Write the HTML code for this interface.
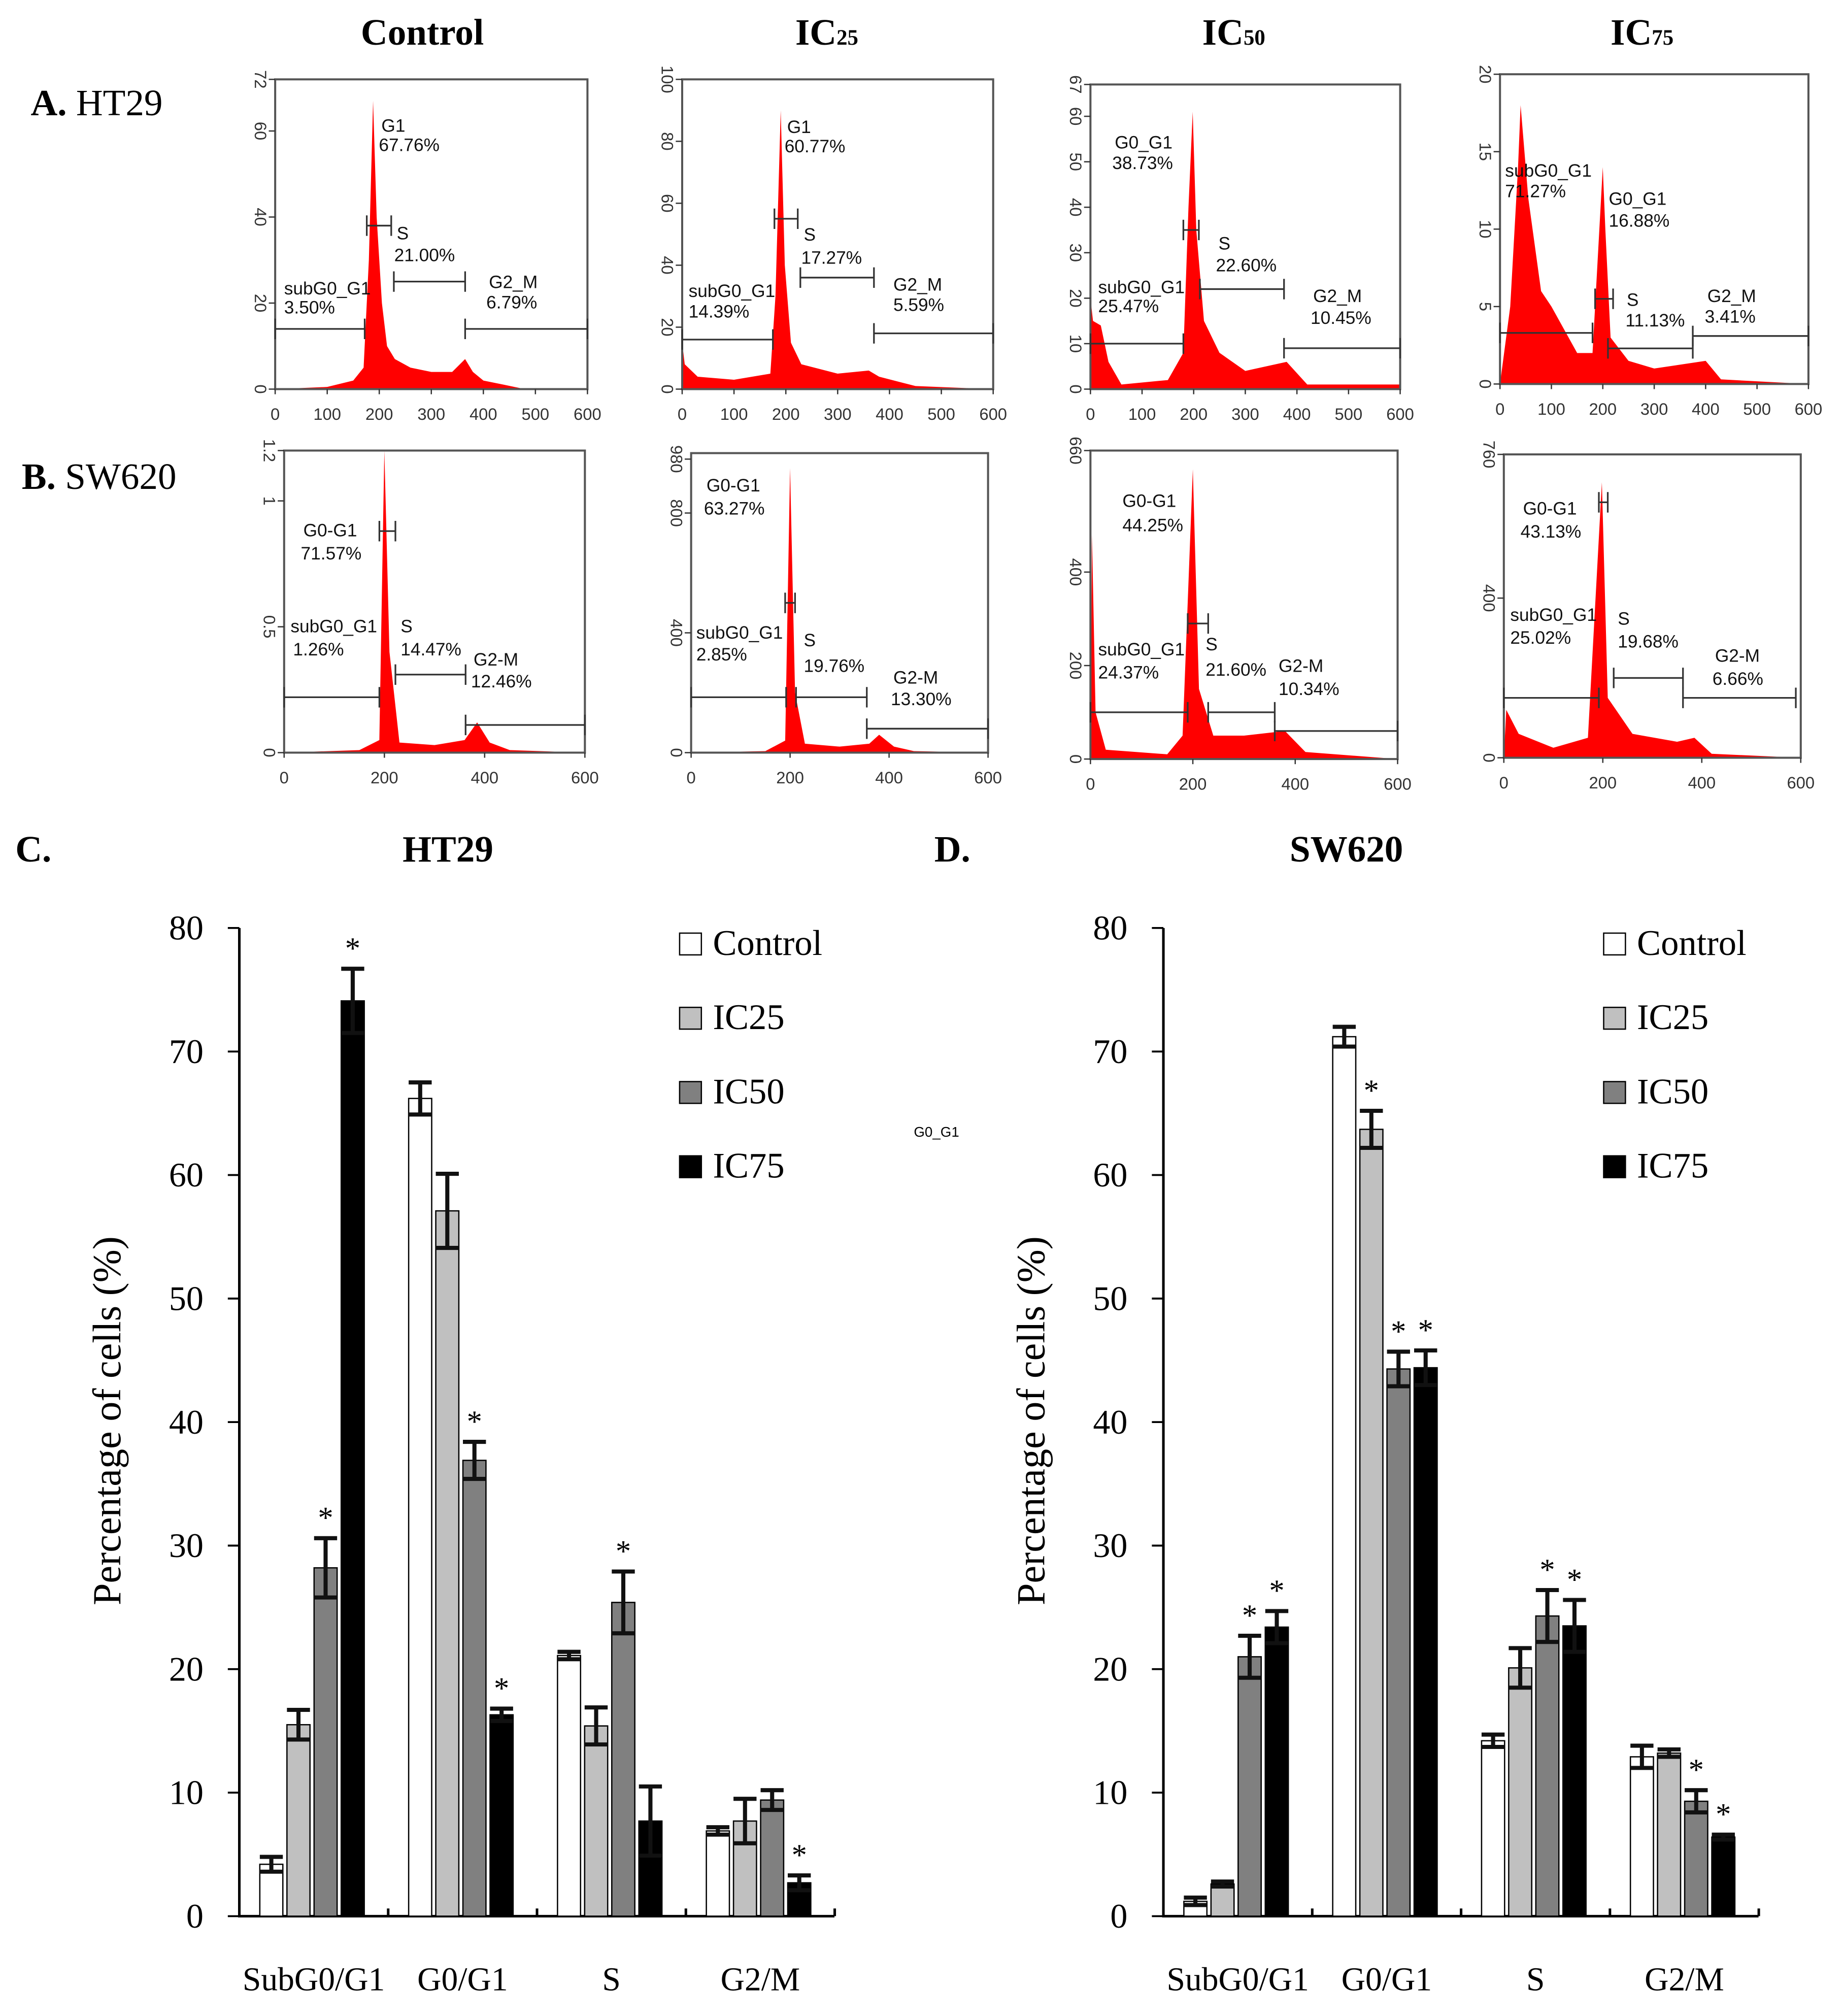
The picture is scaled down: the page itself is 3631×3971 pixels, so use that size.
<!DOCTYPE html>
<html><head><meta charset="utf-8">
<style>
html,body{margin:0;padding:0;background:#fff;}
svg{display:block;}
</style></head>
<body>
<svg id="fig" width="3631" height="3971" viewBox="0 0 1440 1575" preserveAspectRatio="none" xmlns="http://www.w3.org/2000/svg">
<g font-family="Liberation Serif, serif" fill="#000">
<text x="330" y="35" font-size="29" font-weight="bold" text-anchor="middle">Control</text>
<text x="646" y="35" font-size="29" font-weight="bold" text-anchor="middle">IC<tspan font-size="17">25</tspan></text>
<text x="964" y="35" font-size="29" font-weight="bold" text-anchor="middle">IC<tspan font-size="17">50</tspan></text>
<text x="1283" y="35" font-size="29" font-weight="bold" text-anchor="middle">IC<tspan font-size="17">75</tspan></text>
<text x="24" y="90" font-size="29"><tspan font-weight="bold">A.</tspan> HT29</text>
<text x="17" y="382" font-size="29"><tspan font-weight="bold">B.</tspan> SW620</text>
<text x="12" y="673" font-size="29" font-weight="bold">C.</text>
<text x="350" y="673" font-size="29" font-weight="bold" text-anchor="middle">HT29</text>
<text x="730" y="673" font-size="29" font-weight="bold">D.</text>
<text x="1052" y="673" font-size="29" font-weight="bold" text-anchor="middle">SW620</text>
<text x="714" y="888" font-size="11" font-family="Liberation Sans, sans-serif">G0_G1</text>
</g>
<g id="hists"></g>
<g id="bars"></g>
</svg>
<script>
const NS='http://www.w3.org/2000/svg';
function mk(tag,attrs,parent){const e=document.createElementNS(NS,tag);for(const k in attrs)e.setAttribute(k,attrs[k]);parent.appendChild(e);return e;}

/* ---------- Histogram data (x = DNA content, y = counts) ---------- */
const histA0=[[0,0],[100,0.5],[150,2],[170,5],[180,30],[188,67],[195,40],[205,20],[215,10],[230,7],[260,5],[300,4],[340,4],[365,7],[380,4],[400,2],[440,1],[480,0],[600,0]];
const histA1=[[0,15],[5,8],[30,4],[100,3],[170,5],[180,30],[190,90],[198,40],[210,15],[230,8],[300,5],[360,6],[380,4],[450,1],[600,0]];
const histA2=[[0,20],[5,15],[20,14],[35,6],[60,1],[150,2],[180,8],[190,40],[198,61],[205,35],[220,15],[250,8],[300,4],[380,6],[420,1],[600,1]];
const histA3=[[0,0],[20,5],[35,14],[40,18],[55,12],[80,6],[100,5],[150,2],[180,2],[200,14],[205,10],[215,3],[250,1.5],[300,1],[400,1.5],[430,0.3],[600,0]];
const histB0=[[0,0],[150,0.01],[190,0.05],[200,1.3],[210,0.4],[230,0.04],[300,0.03],[360,0.05],[385,0.12],[410,0.04],[450,0.01],[600,0]];
const histB1=[[0,0],[150,5],[190,40],[200,950],[210,200],[230,30],[300,20],[360,30],[380,60],[410,20],[450,5],[600,0]];
const histB2=[[0,0],[3,480],[10,100],[30,20],[150,10],[180,50],[200,620],[212,150],[240,50],[300,50],[380,60],[420,15],[600,0]];
const histB3=[[0,0],[5,120],[30,60],[100,25],[170,50],[198,690],[210,150],[260,60],[350,40],[385,50],[420,10],[600,0]];

const panels=[
 {id:'a-control',box:[215,62,459,304],ymax:72,yt:[0,20,40,60,72],xt:[0,100,200,300,400,500,600],h:histA0,
  gates:[[0,172,14],[176,223,38],[228,365,25],[365,600,14]],
  labels:[['G1',298,103],['67.76%',296,118],['S',310,187],['21.00%',308,204],['subG0_G1',222,230],['3.50%',222,245],['G2_M',382,225],['6.79%',380,241]]},
 {id:'a-ic25',box:[533,62,776,304],ymax:100,yt:[0,20,40,60,80,100],xt:[0,100,200,300,400,500,600],h:histA1,
  gates:[[0,175,16],[178,223,55],[228,370,36],[370,600,18]],
  labels:[['G1',615,104],['60.77%',613,119],['S',628,188],['17.27%',626,206],['subG0_G1',538,232],['14.39%',538,248],['G2_M',698,227],['5.59%',698,243]]},
 {id:'a-ic50',box:[852,66,1094,304],ymax:67,yt:[0,10,20,30,40,50,60,67],xt:[0,100,200,300,400,500,600],h:histA2,
  gates:[[0,180,10],[180,210,35],[212,375,22],[375,600,9]],
  labels:[['G0_G1',871,116],['38.73%',869,132],['S',952,195],['22.60%',950,212],['subG0_G1',858,229],['25.47%',858,244],['G2_M',1026,236],['10.45%',1024,253]]},
 {id:'a-ic75',box:[1172,58,1413,300],ymax:20,yt:[0,5,10,15,20],xt:[0,100,200,300,400,500,600],h:histA3,
  gates:[[0,180,3.3],[185,220,5.5],[210,375,2.3],[375,600,3.1]],
  labels:[['subG0_G1',1176,138],['71.27%',1176,154],['G0_G1',1257,160],['16.88%',1257,177],['S',1271,239],['11.13%',1270,255],['G2_M',1334,236],['3.41%',1332,252]]},
 {id:'b-control',box:[222,352,457,588],ymax:1.2,yt:[0,0.5,1,1.2],xt:[0,200,400,600],h:histB0,
  gates:[[0,190,0.22],[190,222,0.88],[222,362,0.31],[362,600,0.11]],
  labels:[['G0-G1',237,419],['71.57%',235,437],['subG0_G1',227,494],['1.26%',229,512],['S',313,494],['14.47%',313,512],['G2-M',370,520],['12.46%',368,537]]},
 {id:'b-ic25',box:[540,354,772,588],ymax:1000,yt:[0,400,800,980],xt:[0,200,400,600],h:histB1,
  gates:[[0,192,185],[190,210,500],[212,355,185],[355,600,80]],
  labels:[['G0-G1',552,384],['63.27%',550,402],['subG0_G1',544,499],['2.85%',544,516],['S',628,505],['19.76%',628,525],['G2-M',698,534],['13.30%',696,551]]},
 {id:'b-ic50',box:[852,352,1092,593],ymax:660,yt:[0,200,400,660],xt:[0,200,400,600],h:histB2,
  gates:[[0,190,100],[190,230,290],[230,360,100],[360,600,60]],
  labels:[['G0-G1',877,396],['44.25%',877,415],['subG0_G1',858,512],['24.37%',858,530],['S',942,508],['21.60%',942,528],['G2-M',999,525],['10.34%',999,543]]},
 {id:'b-ic75',box:[1175,355,1407,592],ymax:760,yt:[0,400,760],xt:[0,200,400,600],h:histB3,
  gates:[[0,192,150],[192,210,640],[222,362,200],[362,590,150]],
  labels:[['G0-G1',1190,402],['43.13%',1188,420],['subG0_G1',1180,485],['25.02%',1180,503],['S',1264,488],['19.68%',1264,506],['G2-M',1340,517],['6.66%',1338,535]]}
];

const hg=document.getElementById('hists');
panels.forEach(p=>{
  const [x0,y0,x1,y1]=p.box;
  const sx=v=>x0+(x1-x0)*v/600;
  const sy=v=>y1-(y1-y0)*v/p.ymax;
  const g=mk('g',{},hg);
  
  
  let d='M'+sx(0)+','+sy(0);
  p.h.forEach(pt=>{d+=' L'+sx(pt[0]).toFixed(1)+','+sy(Math.min(pt[1],p.ymax)).toFixed(1);});
  d+=' L'+sx(600)+','+sy(0)+' Z';
  const area=mk('path',{d:d,fill:'#ff0000',stroke:'none'},g);
  
  
  const fr=mk('rect',{x:x0,y:y0,width:x1-x0,height:y1-y0,fill:'none',stroke:'#555','stroke-width':1.6},g);
  
  
  p.xt.forEach(v=>{
    mk('line',{x1:sx(v),x2:sx(v),y1:y1,y2:y1+4,stroke:'#333','stroke-width':1},g);
    const t=mk('text',{x:sx(v),y:y1+24,'font-size':13,'font-family':'Liberation Sans, sans-serif','text-anchor':'middle',fill:'#333'},g);
    t.textContent=v;
    
    
  });
  p.yt.forEach(v=>{
    const yy=sy(v);
    mk('line',{x1:x0-5,x2:x0,y1:yy,y2:yy,stroke:'#333','stroke-width':1},g);
    const t=mk('text',{x:x0-16,y:yy,'font-size':13,'font-family':'Liberation Sans, sans-serif','text-anchor':'middle',fill:'#333',transform:'rotate(90 '+(x0-16)+' '+yy+')'},g);
    t.textContent=v;
    
    
  });
  p.gates.forEach(gt=>{
    const a=sx(gt[0]),b=sx(gt[1]),yy=sy(gt[2]);
    const gl=mk('path',{d:'M'+a+','+yy+' H'+b+' M'+a+','+(yy-8)+' V'+(yy+8)+' M'+b+','+(yy-8)+' V'+(yy+8),stroke:'#333','stroke-width':1.3,fill:'none'},g);
    
    
  });
  p.labels.forEach(l=>{
    const t=mk('text',{x:l[1],y:l[2],'font-size':14,'font-family':'Liberation Sans, sans-serif',fill:'#111'},g);
    t.textContent=l[0];
    
    
  });
});

/* ---------- Bar chart data ---------- */
const categories=['SubG0/G1','G0/G1','S','G2/M'];
const seriesNames=['Control','IC25','IC50','IC75'];
const yTicks=[0,10,20,30,40,50,60,70,80];
const htControl=[4.2,66.2,21.1,6.9];
const htIC25=[15.5,57.1,15.4,7.7];
const htIC50=[28.2,36.9,25.4,9.4];
const htIC75=[74.1,16.3,7.7,2.7];
const htErrControl=[0.6,1.3,0.3,0.3];
const htErrIC25=[1.2,3.0,1.5,1.8];
const htErrIC50=[2.4,1.5,2.5,0.8];
const htErrIC75=[2.6,0.5,2.8,0.6];
const htStars=[[0,0,0,0],[0,0,0,0],[1,1,1,0],[1,1,0,1]];
const swControl=[1.2,71.2,14.2,12.9];
const swIC25=[2.6,63.7,20.1,13.2];
const swIC50=[21.0,44.3,24.3,9.3];
const swIC75=[23.4,44.4,23.5,6.4];
const swErrControl=[0.3,0.8,0.5,0.9];
const swErrIC25=[0.2,1.5,1.6,0.3];
const swErrIC50=[1.7,1.4,2.1,0.9];
const swErrIC75=[1.3,1.4,2.1,0.2];
const swStars=[[0,0,0,0],[0,1,0,0],[1,1,1,1],[1,1,1,1]];

const fills=['#ffffff','#c0c0c0','#808080','#000000'];
const bg=document.getElementById('bars');

function barChart(name,ox,vals,errs,stars){
  const axX=ox, y0=1497, yTop=725, axEnd=ox+465;
  const ys=v=>y0-(y0-yTop)*v/80;
  const groupW=116.3, firstCenter=ox+25;
  const xs=(c,s)=>firstCenter+c*groupW+s*21.2;
  const g=mk('g',{},bg);
  
  
  const ax=mk('path',{d:'M'+axX+','+yTop+' V'+y0+' H'+axEnd,stroke:'#000','stroke-width':2,fill:'none'},g);
  
  
  yTicks.forEach(v=>{
    mk('line',{x1:axX-9,x2:axX,y1:ys(v),y2:ys(v),stroke:'#000','stroke-width':1.5},g);
    const t=mk('text',{x:axX-28,y:ys(v)+9,'font-size':27,'font-family':'Liberation Serif, serif','text-anchor':'end'},g);
    t.textContent=v;
    
    
  });
  for(let c=1;c<=4;c++){
    const tx=axX+c*groupW;
    mk('line',{x1:tx,x2:tx,y1:y0,y2:y0-6,stroke:'#000','stroke-width':2},g);
  }
  categories.forEach((c,i)=>{
    const t=mk('text',{x:axX+(i+0.5)*groupW,y:1555,'font-size':26,'font-family':'Liberation Serif, serif','text-anchor':'middle'},g);
    t.textContent=c;
    
    
  });
  const yl=mk('text',{x:0,y:0,'font-size':31,'font-family':'Liberation Serif, serif','text-anchor':'middle',transform:'translate('+(axX-93)+',1110) rotate(-90)'},g);
  yl.textContent='Percentage of cells (%)';
  
  
  for(let s=0;s<4;s++){
    for(let c=0;c<4;c++){
      const cx=xs(c,s), v=vals[s][c], e=errs[s][c], bw=18;
      const r=mk('rect',{x:cx-bw/2,y:ys(v),width:bw,height:y0-ys(v),fill:fills[s],stroke:'#000','stroke-width':1},g);
      
      
      const eb=mk('path',{d:'M'+cx+','+ys(v-e)+' V'+ys(v+e)+' M'+(cx-bw/2)+','+ys(v+e)+' H'+(cx+bw/2)+' M'+(cx-bw/2)+','+ys(v-e)+' H'+(cx+bw/2),stroke:'#111','stroke-width':3.2,fill:'none'},g);
      
      
      if(stars[s][c]){
        const st=mk('text',{x:cx,y:ys(v+e)-8,'font-size':24,'font-family':'Liberation Serif, serif','text-anchor':'middle'},g);
        st.textContent='*';
        
        
      }
    }
  }
  seriesNames.forEach((n,i)=>{
    const ly=729+i*58;
    const lb=mk('rect',{x:ox+344,y:ly,width:17,height:17,fill:fills[i],stroke:'#000','stroke-width':1},g);
    
    
    const lt=mk('text',{x:ox+370,y:ly+17,'font-size':28,'font-family':'Liberation Serif, serif'},g);
    lt.textContent=n;
    
    
  });
}
barChart('bar-chart-ht29',187,[htControl,htIC25,htIC50,htIC75],[htErrControl,htErrIC25,htErrIC50,htErrIC75],htStars);
barChart('bar-chart-sw620',909,[swControl,swIC25,swIC50,swIC75],[swErrControl,swErrIC25,swErrIC50,swErrIC75],swStars);
</script>
</body></html>
